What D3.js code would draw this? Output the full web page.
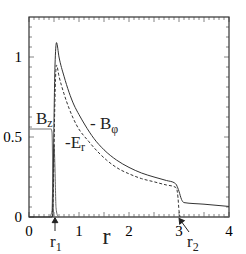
<!DOCTYPE html>
<html>
<head>
<meta charset="utf-8">
<script src="https://cdn.jsdelivr.net/npm/d3@7"></script>
<style>
  body { margin: 0; background: #fff; }
</style>
</head>
<body>
<svg id="chart"></svg>
<script>
// values: [r, value]
const bPhi = [
  [0, 0], [0.46, 0], [0.48, 0.15], [0.5, 0.6], [0.52, 0.95], [0.55, 1.09], [0.6, 1.0],
  [0.7, 0.88], [0.8, 0.78], [0.9, 0.7], [1.0, 0.64], [1.12, 0.575], [1.3, 0.49],
  [1.5, 0.42], [1.75, 0.356], [2.0, 0.31], [2.25, 0.275], [2.5, 0.25], [2.75, 0.228],
  [2.9, 0.215], [2.95, 0.2], [3.0, 0.16], [3.05, 0.11], [3.1, 0.09],
  [3.5, 0.08], [4.0, 0.066]
];
const eR = [
  [0.47, 0], [0.49, 0.2], [0.51, 0.6], [0.53, 0.86], [0.55, 0.95], [0.6, 0.88],
  [0.7, 0.77], [0.8, 0.68], [0.95, 0.575], [1.2, 0.47], [1.4, 0.4], [1.55, 0.356],
  [1.8, 0.3], [2.0, 0.27], [2.25, 0.24], [2.5, 0.22], [2.75, 0.2],
  [2.9, 0.19], [2.95, 0.18], [2.98, 0.12], [3.0, 0.04], [3.02, 0]
];
const bZ = [
  [0, 0.55], [0.44, 0.55], [0.46, 0.53], [0.47, 0.4], [0.48, 0.1], [0.5, 0], [4.0, 0]
];
const spike = [
  [0.4, 0], [0.43, 0.01], [0.46, 0.04], [0.48, 0.3], [0.5, 0.45], [0.52, 0.3],
  [0.54, 0.06], [0.57, 0.01], [0.6, 0]
];
const xTicks = [0, 1, 2, 3, 4];
const yTicks = [0, 0.5, 1];
const yTickText = ["0", "0.5", "1"];

const W = 246, H = 254;
const margin = {top: 17, right: 17, bottom: 37, left: 29};
const width = W - margin.left - margin.right,
  height = H - margin.top - margin.bottom;
const serif = "'Liberation Serif', 'DejaVu Serif', serif";

const svg = d3.select("#chart").attr("width", W).attr("height", H)
  .attr("font-family", serif);
const g = svg.append("g")
  .attr("transform", "translate(" + margin.left + "," + margin.top + ")");

const x = d3.scaleLinear().domain([0, 4]).range([0, width]);
const y = d3.scaleLinear().domain([0, 1.25]).range([height, 0]);

// inward ticks on all four sides
const minorX = d3.range(0, 4.001, 0.1);
const minorY = d3.range(0, 1.25, 0.0625);
const ticks = g.append("g").attr("stroke", "#666").attr("stroke-width", 0.8);
minorX.forEach(function(v) {
  const major = Math.abs(v * 2 - Math.round(v * 2)) < 1e-6;
  const len = major ? 5 : 3;
  ticks.append("line").attr("x1", x(v)).attr("x2", x(v)).attr("y1", height).attr("y2", height - len);
  ticks.append("line").attr("x1", x(v)).attr("x2", x(v)).attr("y1", 0).attr("y2", len);
});
minorY.forEach(function(v) {
  const major = Math.abs(v * 2 - Math.round(v * 2)) < 1e-6;
  const len = major ? 5 : 3;
  ticks.append("line").attr("x1", 0).attr("x2", len).attr("y1", y(v)).attr("y2", y(v));
  ticks.append("line").attr("x1", width).attr("x2", width - len).attr("y1", y(v)).attr("y2", y(v));
});

g.append("rect").attr("width", width).attr("height", height)
  .attr("fill", "none").attr("stroke", "#333").attr("stroke-width", 1.2);

// tick labels
g.selectAll(".xl").data(xTicks).enter().append("text")
  .attr("font-family", serif)
  .attr("x", d => x(d)).attr("y", height + 19)
  .attr("text-anchor", "middle").attr("font-size", 15).text(d => d);
g.selectAll(".yl").data(yTicks).enter().append("text")
  .attr("font-family", serif)
  .attr("x", -7).attr("y", d => y(d) + 5)
  .attr("text-anchor", "end").attr("font-size", 15).text((d, i) => yTickText[i]);

// curves
const line = d3.line().x(d => x(d[0])).y(d => y(d[1])).curve(d3.curveMonotoneX);
g.append("path").datum(bZ).attr("d", line)
  .attr("fill", "none").attr("stroke", "#777").attr("stroke-width", 1.1);
g.append("path").datum(spike).attr("d", line)
  .attr("fill", "none").attr("stroke", "#666").attr("stroke-width", 1);
g.append("path").datum(eR).attr("d", line)
  .attr("fill", "none").attr("stroke", "#333").attr("stroke-width", 1)
  .attr("stroke-dasharray", "3,2");
g.append("path").datum(bPhi).attr("d", line)
  .attr("fill", "none").attr("stroke", "#333").attr("stroke-width", 1);

// labels
function label(px, py, main, sub, dy) {
  const t = g.append("text").attr("x", px).attr("y", py)
    .attr("font-family", serif).attr("font-size", 17).attr("fill", "#222");
  t.append("tspan").text(main);
  t.append("tspan").attr("font-size", 12).attr("dy", dy).attr("fill", "#222").text(sub);
  return t;
}
label(x(0.14), y(0.58), "B", "z", 3);
label(x(1.22), y(0.55), "- B", "\u03c6", 4);
label(x(0.72), y(0.43), "-E", "r", 3);

// axis title
g.append("text").attr("x", x(1.55)).attr("y", height + 27)
  .attr("font-family", serif).attr("fill", "#222")
  .attr("text-anchor", "middle").attr("font-size", 24).text("r");

// r1 / r2 markers
const arrows = g.append("g").attr("stroke", "#222").attr("stroke-width", 1).attr("fill", "#222");
const r1 = 0.52, r2 = 3.0;
arrows.append("line").attr("x1", x(r1)).attr("x2", x(r1)).attr("y1", height + 14).attr("y2", height + 3);
arrows.append("path").attr("d", d3.symbol(d3.symbolTriangle, 14)())
  .attr("transform", "translate(" + x(r1) + "," + (height + 4) + ")");
arrows.append("line").attr("x1", x(r2) + 10).attr("x2", x(r2) + 2)
  .attr("y1", height + 15).attr("y2", height + 4);
arrows.append("path").attr("d", d3.symbol(d3.symbolTriangle, 14)())
  .attr("transform", "translate(" + (x(r2) + 2) + "," + (height + 4) + ") rotate(-36)");

label(x(r1) - 5, height + 30, "r", "1", 4);
label(x(r2) + 8, height + 30, "r", "2", 4);
</script>
</body>
</html>
